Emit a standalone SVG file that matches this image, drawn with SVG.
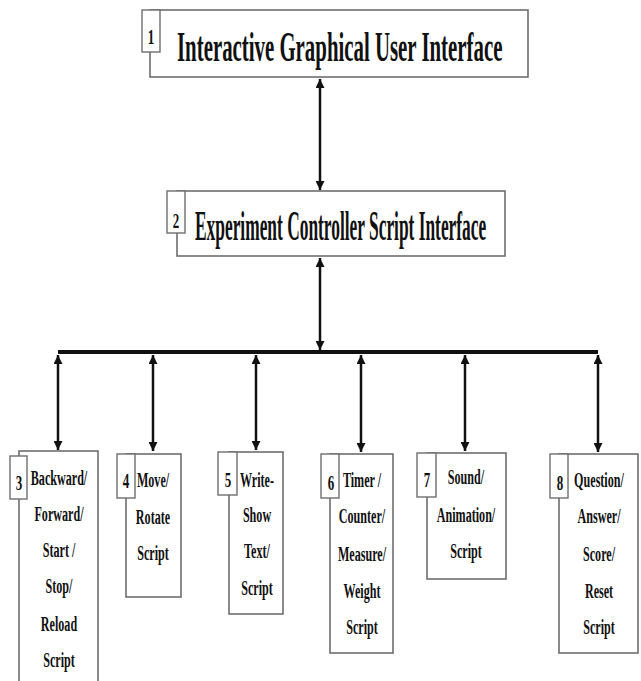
<svg xmlns="http://www.w3.org/2000/svg" width="641" height="681" viewBox="0 0 641 681">
<style>
.box{fill:#fff;stroke:#6e6e6e;stroke-width:1.6}
.num{fill:#fff;stroke:#6e6e6e;stroke-width:1.4}
.t{font-family:"Liberation Serif","Times New Roman",serif;font-weight:bold;fill:#111}
.title{font-size:42px}
.lbl{font-size:22px;text-anchor:middle}
.n{font-size:20px;text-anchor:middle}
.conn{stroke:#111;stroke-width:2.5;fill:none}
</style>
<defs>
<marker id="ah" viewBox="0 0 10 10" refX="10" refY="5" markerWidth="10" markerHeight="9" markerUnits="userSpaceOnUse" orient="auto-start-reverse">
<path d="M0,0 L10,5 L0,10 z" fill="#111"/>
</marker>
</defs>
<rect width="641" height="681" fill="#fff"/>

<g id="connectors">
<line class="conn" x1="320" y1="79" x2="320" y2="190" marker-start="url(#ah)" marker-end="url(#ah)"/>
<line class="conn" x1="320" y1="258" x2="320" y2="350" marker-start="url(#ah)" marker-end="url(#ah)"/>
<line x1="58" y1="352" x2="598" y2="352" stroke="#111" stroke-width="4"/>
<line class="conn" x1="58" y1="355" x2="58" y2="450" marker-start="url(#ah)" marker-end="url(#ah)"/>
<line class="conn" x1="153" y1="355" x2="153" y2="451" marker-start="url(#ah)" marker-end="url(#ah)"/>
<line class="conn" x1="256" y1="355" x2="256" y2="450" marker-start="url(#ah)" marker-end="url(#ah)"/>
<line class="conn" x1="361" y1="355" x2="361" y2="452" marker-start="url(#ah)" marker-end="url(#ah)"/>
<line class="conn" x1="465" y1="355" x2="465" y2="451" marker-start="url(#ah)" marker-end="url(#ah)"/>
<line class="conn" x1="598" y1="355" x2="598" y2="452" marker-start="url(#ah)" marker-end="url(#ah)"/>
</g>

<g id="node1">
<rect class="box" x="150" y="10" width="378" height="67"/>
<rect class="num" x="142" y="10" width="18" height="42"/>
<g transform="translate(151 0) scale(0.65 1)"><text class="t n" x="0" y="44">1</text></g>
<g transform="translate(177 61) scale(0.4964 1)"><text class="t title" x="0" y="0">Interactive Graphical User Interface</text></g>
</g>

<g id="node2">
<rect class="box" x="177" y="191" width="328" height="65"/>
<rect class="num" x="167" y="191" width="18" height="42"/>
<g transform="translate(176 0) scale(0.65 1)"><text class="t n" x="0" y="228">2</text></g>
<g transform="translate(195 240) scale(0.4138 1)"><text class="t title" x="0" y="0">Experiment Controller Script Interface</text></g>
</g>

<g id="node3">
<rect class="box" x="19" y="451" width="79" height="245"/>
<rect class="num" x="10" y="456" width="17" height="43"/>
<g transform="translate(19 0) scale(0.65 1)"><text class="t n" x="0" y="490">3</text></g>
<g transform="translate(59 0) scale(0.55 1)">
<text class="t lbl" x="0" y="485">Backward/</text>
<text class="t lbl" x="0" y="521">Forward/</text>
<text class="t lbl" x="0" y="557">Start /</text>
<text class="t lbl" x="0" y="593">Stop/</text>
<text class="t lbl" x="0" y="631">Reload</text>
<text class="t lbl" x="0" y="667">Script</text>
</g>
</g>

<g id="node4">
<rect class="box" x="126" y="454" width="55" height="143"/>
<rect class="num" x="117" y="454" width="18" height="44"/>
<g transform="translate(126 0) scale(0.65 1)"><text class="t n" x="0" y="488">4</text></g>
<g transform="translate(153 0) scale(0.55 1)">
<text class="t lbl" x="0" y="487">Move/</text>
<text class="t lbl" x="0" y="524">Rotate</text>
<text class="t lbl" x="0" y="560">Script</text>
</g>
</g>

<g id="node5">
<rect class="box" x="229" y="452" width="54" height="162"/>
<rect class="num" x="218" y="452" width="19" height="43"/>
<g transform="translate(228 0) scale(0.65 1)"><text class="t n" x="0" y="487">5</text></g>
<g transform="translate(257 0) scale(0.55 1)">
<text class="t lbl" x="0" y="487">Write-</text>
<text class="t lbl" x="0" y="522">Show</text>
<text class="t lbl" x="0" y="558">Text/</text>
<text class="t lbl" x="0" y="595">Script</text>
</g>
</g>

<g id="node6">
<rect class="box" x="330" y="454" width="63" height="199"/>
<rect class="num" x="321" y="454" width="18" height="44"/>
<g transform="translate(331 0) scale(0.65 1)"><text class="t n" x="0" y="490">6</text></g>
<g transform="translate(362 0) scale(0.55 1)">
<text class="t lbl" x="0" y="487">Timer /</text>
<text class="t lbl" x="0" y="523">Counter/</text>
<text class="t lbl" x="0" y="561">Measure/</text>
<text class="t lbl" x="0" y="598">Weight</text>
<text class="t lbl" x="0" y="634">Script</text>
</g>
</g>

<g id="node7">
<rect class="box" x="427" y="453" width="79" height="126"/>
<rect class="num" x="417" y="453" width="19" height="44"/>
<g transform="translate(427 0) scale(0.65 1)"><text class="t n" x="0" y="487">7</text></g>
<g transform="translate(466 0) scale(0.55 1)">
<text class="t lbl" x="0" y="484">Sound/</text>
<text class="t lbl" x="0" y="522">Animation/</text>
<text class="t lbl" x="0" y="558">Script</text>
</g>
</g>

<g id="node8">
<rect class="box" x="559" y="454" width="79" height="199"/>
<rect class="num" x="550" y="454" width="18" height="44"/>
<g transform="translate(560 0) scale(0.65 1)"><text class="t n" x="0" y="490">8</text></g>
<g transform="translate(599 0) scale(0.55 1)">
<text class="t lbl" x="0" y="487">Question/</text>
<text class="t lbl" x="0" y="523">Answer/</text>
<text class="t lbl" x="0" y="561">Score/</text>
<text class="t lbl" x="0" y="598">Reset</text>
<text class="t lbl" x="0" y="634">Script</text>
</g>
</g>
</svg>
